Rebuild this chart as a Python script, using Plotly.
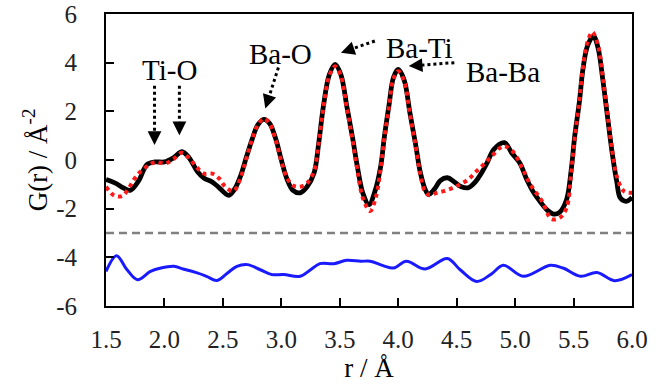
import math
import plotly.graph_objects as go

# ---- data ----
r_exp = [1.50, 1.58, 1.65, 1.71, 1.78, 1.85, 1.92, 2.00, 2.08, 2.15, 2.21, 2.28, 2.34, 2.40, 2.46,
         2.55, 2.60, 2.65, 2.70, 2.75, 2.80, 2.85, 2.90, 2.95, 3.00, 3.05, 3.10, 3.16, 3.22, 3.28,
         3.32, 3.36, 3.41, 3.46, 3.51, 3.56, 3.61, 3.65, 3.70, 3.75, 3.80, 3.85, 3.88, 3.92, 3.96,
         4.00, 4.05, 4.10, 4.15, 4.19, 4.23, 4.26, 4.31, 4.36, 4.42, 4.48, 4.54, 4.60, 4.66, 4.71,
         4.76, 4.82, 4.91, 4.97, 5.04, 5.10, 5.16, 5.22, 5.27, 5.33, 5.38, 5.44, 5.48, 5.51, 5.55,
         5.58, 5.62, 5.67, 5.71, 5.75, 5.79, 5.83, 5.87, 5.90, 5.95, 6.00]
g_exp = [-0.80, -0.95, -1.15, -1.24, -0.85, -0.19, -0.08, -0.08, 0.10, 0.34, 0.10, -0.46, -0.75, -0.88, -1.10,
         -1.45, -1.20, -0.67, 0.10, 0.85, 1.45, 1.67, 1.50, 0.90, 0.00, -0.80, -1.25, -1.35, -1.10, -0.53,
         0.70, 2.21, 3.50, 3.93, 3.50, 2.21, 0.90, -0.26, -1.40, -1.83, -1.30, -0.26, 0.90, 2.21, 3.40,
         3.72, 3.30, 1.94, 0.60, -0.53, -1.20, -1.42, -1.20, -0.85, -0.73, -0.90, -1.10, -1.14, -0.90, -0.55,
         -0.12, 0.45, 0.71, 0.30, -0.12, -0.80, -1.35, -1.75, -2.04, -2.22, -2.15, -1.63, -0.40, 0.98, 2.40,
         3.72, 4.70, 5.09, 4.60, 3.31, 1.80, 0.30, -0.90, -1.56, -1.70, -1.54]

r_fit = [1.50, 1.57, 1.64, 1.69, 1.74, 1.79, 1.85, 1.92, 2.01, 2.08, 2.15, 2.22, 2.28, 2.34, 2.41,
         2.47, 2.52, 2.59, 2.65, 2.70, 2.75, 2.80, 2.85, 2.90, 2.95, 3.00, 3.05, 3.10, 3.16, 3.22,
         3.28, 3.32, 3.36, 3.41, 3.46, 3.51, 3.56, 3.61, 3.65, 3.70, 3.76, 3.81, 3.85, 3.88, 3.92,
         3.96, 4.00, 4.05, 4.10, 4.15, 4.19, 4.23, 4.27, 4.33, 4.39, 4.47, 4.53, 4.60, 4.66, 4.73,
         4.80, 4.90, 4.98, 5.06, 5.13, 5.23, 5.31, 5.38, 5.44, 5.48, 5.51, 5.55, 5.58, 5.62, 5.66,
         5.71, 5.75, 5.79, 5.83, 5.87, 5.93, 6.00]
g_fit = [-1.10, -1.46, -1.48, -1.19, -0.80, -0.50, -0.26, -0.09, -0.14, 0.05, 0.30, 0.02, -0.32, -0.56, -0.56,
         -0.77, -1.10, -1.28, -0.75, 0.05, 0.85, 1.45, 1.70, 1.50, 0.85, -0.05, -0.75, -1.05, -1.10, -0.95,
         -0.45, 0.70, 2.15, 3.45, 3.85, 3.45, 2.15, 0.80, -0.40, -1.60, -2.10, -1.50, -0.35, 0.85, 2.15,
         3.35, 3.65, 3.25, 1.90, 0.55, -0.60, -1.30, -1.45, -1.35, -1.28, -1.14, -1.00, -0.80, -0.50, -0.19,
         0.16, 0.57, 0.35, -0.32, -1.00, -1.69, -2.42, -2.38, -1.97, -0.50, 0.90, 2.45, 3.80, 4.85, 5.26,
         4.70, 3.40, 1.90, 0.40, -0.67, -1.28, -1.35]

r_diff = [1.50, 1.59, 1.68, 1.77, 1.88, 1.97, 2.08, 2.16, 2.28, 2.36, 2.45, 2.54, 2.62, 2.71, 2.82,
          2.92, 3.02, 3.16, 3.25, 3.33, 3.45, 3.56, 3.68, 3.76, 3.87, 3.96, 4.07, 4.23, 4.42, 4.53,
          4.67, 4.79, 4.90, 5.07, 5.30, 5.41, 5.56, 5.70, 5.85, 6.00]
g_diff = [-4.58, -3.93, -4.51, -4.92, -4.58, -4.44, -4.37, -4.48, -4.64, -4.78, -4.95, -4.64, -4.37, -4.30, -4.51,
          -4.71, -4.71, -4.78, -4.51, -4.26, -4.26, -4.12, -4.16, -4.16, -4.34, -4.44, -4.16, -4.48, -4.05, -4.51,
          -4.99, -4.71, -4.33, -4.78, -4.33, -4.44, -4.78, -4.62, -4.96, -4.71]

baseline_y = -3.0

x_ticks = [1.5, 2.0, 2.5, 3.0, 3.5, 4.0, 4.5, 5.0, 5.5, 6.0]
y_ticks = [-6, -4, -2, 0, 2, 4, 6]

labels = ["Ti-O", "Ba-O", "Ba-Ti", "Ba-Ba"]
label_r = [2.04, 2.99, 4.18, 4.90]
label_g = [3.68, 4.34, 4.62, 3.62]
# arrows: (tail r, tail G, tip r, tip G)
arrows = [(1.915, 3.05, 1.915, 0.62),
          (2.128, 3.05, 2.128, 1.02),
          (2.975, 3.80, 2.863, 2.12),
          (3.80, 4.89, 3.51, 4.41),
          (4.48, 4.00, 4.09, 3.86)]

SERIF = "Times New Roman, Liberation Serif, DejaVu Serif, serif"

fig = go.Figure()
fig.add_trace(go.Scatter(x=r_diff, y=g_diff, mode="lines", line=dict(color="#1a1aff", width=3, shape="spline"),
                         showlegend=False, hoverinfo="skip"))
fig.add_trace(go.Scatter(x=r_exp, y=g_exp, mode="lines", line=dict(color="black", width=4.8, shape="spline"),
                         showlegend=False, hoverinfo="skip"))
fig.add_trace(go.Scatter(x=r_fit, y=g_fit, mode="lines", line=dict(color="#ff1a1a", width=4, dash="dot", shape="spline"),
                         showlegend=False, hoverinfo="skip"))

fig.add_shape(type="line", xref="paper", x0=0, x1=1, y0=baseline_y, y1=baseline_y,
              line=dict(color="#808080", width=2.5, dash="8px,5px"))

PX_X = 117.0   # approx pixels per unit r
PX_Y = 24.3    # approx pixels per unit G
for (r0, g0, r1, g1) in arrows:
    dxp = (r1 - r0) * PX_X
    dyp = -(g1 - g0) * PX_Y
    L = math.hypot(dxp, dyp)
    ux, uy = dxp / L, dyp / L
    back = 8.0
    r_end = r1 - ux * back / PX_X
    g_end = g1 + uy * back / PX_Y
    fig.add_shape(type="line", x0=r0, y0=g0, x1=r_end, y1=g_end,
                  line=dict(color="black", width=3, dash="dot"))
    fig.add_annotation(x=r1, y=g1, ax=-ux * 10, ay=-uy * 10, text="", showarrow=True,
                       arrowhead=2, arrowsize=1.1, arrowwidth=2.5, arrowcolor="black")

for t, rx, gy in zip(labels, label_r, label_g):
    fig.add_annotation(x=rx, y=gy, text=t, showarrow=False,
                       font=dict(family=SERIF, size=29, color="black"))

axis_common = dict(showline=True, linecolor="black", linewidth=2, mirror=True,
                   ticks="inside", ticklen=8, tickwidth=2, tickcolor="black",
                   showgrid=False, zeroline=False, automargin=False,
                   ticklabeloverflow="allow",
                   tickfont=dict(family=SERIF, size=25, color="#222"))

fig.update_xaxes(range=[1.5, 6.0], tickvals=x_ticks, ticktext=[f"{v:.1f}" for v in x_ticks],
                 ticklabelstandoff=10,
                 title=dict(text="r / Å", font=dict(family=SERIF, size=27, color="black"), standoff=2),
                 **axis_common)
fig.update_yaxes(range=[-6, 6], tickvals=y_ticks, ticktext=[str(v) for v in y_ticks],
                 ticklabelstandoff=22,
                 title=dict(text="G(r) / Å<sup>-2</sup>", font=dict(family=SERIF, size=27, color="black"), standoff=1),
                 **axis_common)

fig.update_layout(width=661, height=390, margin=dict(l=106, r=29, t=14, b=84),
                  plot_bgcolor="white", paper_bgcolor="white",
                  font=dict(family=SERIF))

# remove the browser's default 8px body margin so the figure sits at the page origin
fig.write_html("out.html", config={"displayModeBar": False},
               post_script="document.body.style.margin='0';")
